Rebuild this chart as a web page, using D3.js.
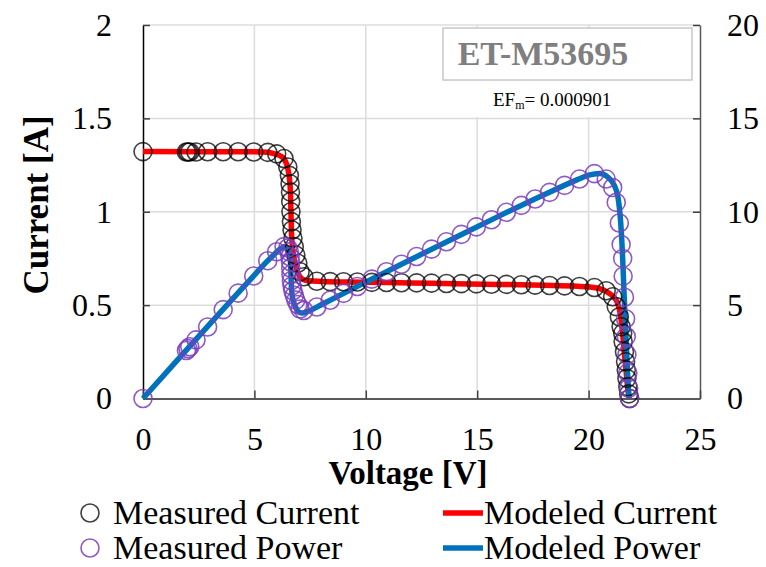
<!DOCTYPE html>
<html>
<head>
<meta charset="utf-8">
<script src="https://cdn.jsdelivr.net/npm/d3@7/dist/d3.min.js"></script>
<style>
  html, body { margin: 0; padding: 0; background: #fff; }
  svg { display: block; }
  text { font-family: "Liberation Serif", "Times New Roman", serif; }
</style>
</head>
<body>
<svg id="chart" width="766" height="567"></svg>
<script>
// Measured I-V / P-V points of the module
const measVoltage = [0, 1.95, 2.02, 2.1, 2.38, 2.9, 3.6, 4.27, 4.97, 5.6, 6.0, 6.33, 6.5, 6.57, 6.6, 6.62, 6.63, 6.64, 6.66, 6.69, 6.73, 6.79, 6.86, 6.95, 7.05, 7.22, 7.8, 8.4, 9.0, 9.62, 10.27, 10.93, 11.6, 12.28, 12.95, 13.62, 14.29, 14.96, 15.64, 16.31, 16.98, 17.6, 18.25, 18.92, 19.59, 20.26, 20.79, 21.08, 21.24, 21.38, 21.46, 21.53, 21.55, 21.61, 21.66, 21.69, 21.72, 21.76, 21.8, 21.84];
const measCurrent = [1.322, 1.32, 1.32, 1.32, 1.32, 1.321, 1.321, 1.321, 1.32, 1.318, 1.31, 1.285, 1.24, 1.195, 1.15, 1.105, 1.055, 1.0, 0.947, 0.902, 0.858, 0.813, 0.768, 0.724, 0.679, 0.652, 0.628, 0.626, 0.625, 0.624, 0.622, 0.621, 0.62, 0.619, 0.618, 0.616, 0.615, 0.614, 0.612, 0.611, 0.609, 0.607, 0.605, 0.603, 0.6, 0.594, 0.577, 0.545, 0.492, 0.438, 0.384, 0.349, 0.304, 0.251, 0.197, 0.153, 0.108, 0.063, 0.025, 0];
const measPower = [0, 2.57, 2.67, 2.77, 3.14, 3.83, 4.76, 5.64, 6.56, 7.38, 7.86, 8.13, 8.06, 7.85, 7.59, 7.32, 6.99, 6.64, 6.31, 6.03, 5.77, 5.52, 5.27, 5.03, 4.79, 4.71, 4.90, 5.26, 5.63, 6.0, 6.39, 6.79, 7.19, 7.6, 8.0, 8.39, 8.79, 9.19, 9.57, 9.97, 10.34, 10.68, 11.04, 11.41, 11.75, 12.04, 11.75, 11.3, 10.5, 9.4, 8.25, 7.5, 6.55, 5.42, 4.27, 3.32, 2.35, 1.37, 0.55, 0];

// Modeled curves
const modelVoltage = [0, 5.0, 5.6, 5.9, 6.15, 6.35, 6.5, 6.58, 6.62, 6.64, 6.66, 6.70, 6.78, 6.88, 7.0, 7.15, 7.4, 8.0, 10, 12, 14, 16, 18, 19.5, 20.0, 20.5, 20.9, 21.15, 21.32, 21.44, 21.52, 21.6, 21.68, 21.76, 21.82];
const modelCurrent = [1.322, 1.321, 1.318, 1.31, 1.30, 1.28, 1.23, 1.17, 1.10, 1.00, 0.90, 0.82, 0.75, 0.70, 0.66, 0.64, 0.63, 0.627, 0.623, 0.619, 0.615, 0.611, 0.606, 0.601, 0.598, 0.588, 0.565, 0.54, 0.505, 0.44, 0.36, 0.25, 0.15, 0.05, 0];
const modelPower = [0, 6.61, 7.38, 7.73, 8.00, 8.13, 8.00, 7.70, 7.28, 6.64, 5.99, 5.49, 5.09, 4.82, 4.62, 4.58, 4.66, 5.02, 6.23, 7.43, 8.61, 9.78, 10.91, 11.72, 11.96, 12.05, 11.81, 11.42, 10.77, 9.43, 7.75, 5.40, 3.25, 1.09, 0];

// Axis ticks and labels
const voltageTicks = [0, 5, 10, 15, 20, 25];
const currentTicks = [0, 0.5, 1, 1.5, 2];
const powerTicks = [0, 5, 10, 15, 20];
const moduleName = "ET-M53695";
const errorFactor = "0.000901";
const legendItems = ["Measured Current", "Modeled Current", "Measured Power", "Modeled Power"];

const svg = d3.select("#chart");
const plotLeft = 143, plotRight = 700, plotTop = 25, plotBottom = 398.5;

const x = d3.scaleLinear().domain([0, 25]).range([plotLeft, plotRight]);
const yI = d3.scaleLinear().domain([0, 2]).range([plotBottom, plotTop]);
const yP = d3.scaleLinear().domain([0, 20]).range([plotBottom, plotTop]);

const colBlack = "rgba(0,0,0,0.75)";
const colPurple = "rgba(122,62,188,0.85)";
const colRed = "#ff0000";
const colBlue = "#0072bd";

// grid
const grid = svg.append("g");
grid.selectAll("line.v").data(voltageTicks.slice(1, -1)).join("line")
  .attr("class", "v")
  .attr("x1", d => x(d)).attr("x2", d => x(d))
  .attr("y1", plotTop).attr("y2", plotBottom)
  .attr("stroke", "#dcdcdc").attr("stroke-width", 1.5);
grid.selectAll("line.h").data(currentTicks.slice(1)).join("line")
  .attr("class", "h")
  .attr("x1", plotLeft).attr("x2", plotRight)
  .attr("y1", d => yI(d)).attr("y2", d => yI(d))
  .attr("stroke", "#dcdcdc").attr("stroke-width", 1.5);

const fmt = d => String(d);

// left axis
const gL = svg.append("g").attr("transform", `translate(${plotLeft},0)`)
  .call(d3.axisLeft(yI).tickValues(currentTicks).tickFormat(fmt).tickSize(-7).tickSizeOuter(0).tickPadding(31));
gL.select(".domain").attr("stroke", "#000").attr("stroke-width", 1.5);
gL.selectAll(".tick line").attr("stroke", "#404040").attr("stroke-width", 1.5);
gL.selectAll("text").attr("font-size", 32).attr("fill", "#000");

// right axis
const gR = svg.append("g").attr("transform", `translate(${plotRight},0)`)
  .call(d3.axisRight(yP).tickValues(powerTicks).tickFormat(fmt).tickSize(-7).tickSizeOuter(0).tickPadding(27));
gR.select(".domain").attr("stroke", "#595959").attr("stroke-width", 1.5);
gR.selectAll(".tick line").attr("stroke", "#404040").attr("stroke-width", 1.5);
gR.selectAll("text").attr("font-size", 32).attr("fill", "#000");

// bottom axis
const gB = svg.append("g").attr("transform", `translate(0,${plotBottom})`)
  .call(d3.axisBottom(x).tickValues(voltageTicks).tickFormat(fmt).tickSize(-8).tickSizeOuter(0).tickPadding(29));
gB.select(".domain").attr("stroke", "#595959").attr("stroke-width", 2);
gB.selectAll(".tick line").attr("stroke", "#404040").attr("stroke-width", 1.5);
gB.selectAll("text").attr("font-size", 32).attr("fill", "#000");

// axis titles
svg.append("text").attr("x", 408).attr("y", 484).attr("text-anchor", "middle")
  .attr("font-size", 33).attr("font-weight", "bold").text("Voltage [V]");
svg.append("text").attr("transform", "translate(48,205) rotate(-90)").attr("text-anchor", "middle")
  .attr("font-size", 35).attr("font-weight", "bold").text("Current [A]");

// modeled curves
const model = modelVoltage.map((v, i) => ({ v, i: modelCurrent[i], p: modelPower[i] }));
svg.append("path").datum(model)
  .attr("d", d3.line().x(d => x(d.v)).y(d => yI(d.i)).curve(d3.curveMonotoneX))
  .attr("fill", "none").attr("stroke", colRed).attr("stroke-width", 5.5).attr("stroke-linejoin", "round");
svg.append("path").datum(model)
  .attr("d", d3.line().x(d => x(d.v)).y(d => yP(d.p)).curve(d3.curveMonotoneX))
  .attr("fill", "none").attr("stroke", colBlue).attr("stroke-width", 5.5).attr("stroke-linejoin", "round");

// measured points
const meas = measVoltage.map((v, i) => ({ v, i: measCurrent[i], p: measPower[i] }));
svg.append("g").selectAll("circle").data(meas).join("circle")
  .attr("cx", d => x(d.v)).attr("cy", d => yI(d.i)).attr("r", 9)
  .attr("fill", "none").attr("stroke", colBlack).attr("stroke-width", 1.6);
svg.append("g").selectAll("circle").data(meas).join("circle")
  .attr("cx", d => x(d.v)).attr("cy", d => yP(d.p)).attr("r", 9)
  .attr("fill", "none").attr("stroke", colPurple).attr("stroke-width", 1.6);

// annotation box
svg.append("rect").attr("x", 443).attr("y", 28).attr("width", 249).attr("height", 52)
  .attr("fill", "#fff").attr("stroke", "#c8c8c8").attr("stroke-width", 1.5);
svg.append("text").attr("x", 543).attr("y", 65).attr("text-anchor", "middle")
  .attr("font-size", 34).attr("font-weight", "bold").attr("fill", "#7f7f7f").text(moduleName);
svg.append("rect").attr("x", 472).attr("y", 81).attr("width", 166).attr("height", 36).attr("fill", "#fff");
const ef = svg.append("text").attr("x", 493).attr("y", 106).attr("font-size", 19).attr("fill", "#000");
ef.append("tspan").text("EF");
ef.append("tspan").attr("font-size", 12).attr("dy", 3).text("m");
ef.append("tspan").attr("dy", -3).text("= " + errorFactor);

// legend
const legend = svg.append("g");
const rows = [513, 548];
legend.append("circle").attr("cx", 90).attr("cy", rows[0]).attr("r", 9)
  .attr("fill", "none").attr("stroke", colBlack).attr("stroke-width", 1.6);
legend.append("circle").attr("cx", 90).attr("cy", rows[1]).attr("r", 9)
  .attr("fill", "none").attr("stroke", colPurple).attr("stroke-width", 1.6);
legend.append("line").attr("x1", 443).attr("x2", 483).attr("y1", rows[0]).attr("y2", rows[0])
  .attr("stroke", colRed).attr("stroke-width", 5.5);
legend.append("line").attr("x1", 443).attr("x2", 483).attr("y1", rows[1]).attr("y2", rows[1])
  .attr("stroke", colBlue).attr("stroke-width", 5.5);
legend.append("text").attr("x", 113).attr("y", rows[0] + 11).attr("font-size", 34).text(legendItems[0]);
legend.append("text").attr("x", 484).attr("y", rows[0] + 11).attr("font-size", 34).text(legendItems[1]);
legend.append("text").attr("x", 113).attr("y", rows[1] + 11).attr("font-size", 34).text(legendItems[2]);
legend.append("text").attr("x", 484).attr("y", rows[1] + 11).attr("font-size", 34).text(legendItems[3]);
</script>
</body>
</html>
